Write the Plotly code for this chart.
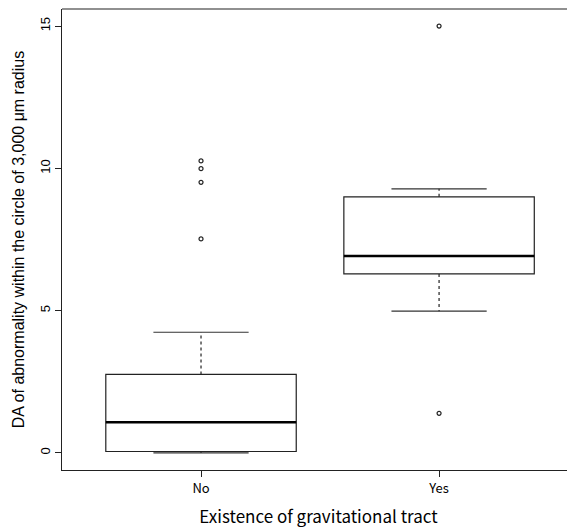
import plotly.graph_objects as go

categories = ["No", "Yes"]
q1 = [0.05, 6.29]
median = [1.08, 6.92]
q3 = [2.76, 9.00]
lower_whisker = [0.0, 4.98]
upper_whisker = [4.24, 9.28]
outliers = [[10.26, 9.99, 9.51, 7.52], [15.0, 1.39]]

positions = [1, 2]
box_w = 0.8
cap_w = 0.4

fig = go.Figure()

for i, cat in enumerate(categories):
    x = positions[i]
    fig.add_trace(go.Box(
        x=[x], q1=[q1[i]], median=[median[i]], q3=[q3[i]],
        lowerfence=[q1[i]], upperfence=[q3[i]],
        width=box_w, whiskerwidth=0,
        fillcolor="rgba(0,0,0,0)", line=dict(color="#222", width=1.2),
        boxpoints=False, showlegend=False, hoverinfo="skip"))
    fig.add_trace(go.Scatter(
        x=[x - box_w / 2, x + box_w / 2], y=[median[i], median[i]],
        mode="lines", line=dict(color="black", width=2.6),
        showlegend=False, hoverinfo="skip"))
    for a, b in [(q3[i], upper_whisker[i]), (q1[i], lower_whisker[i])]:
        fig.add_trace(go.Scatter(
            x=[x, x], y=[a, b], mode="lines",
            line=dict(color="#222", width=1.2, dash="dot"),
            showlegend=False, hoverinfo="skip"))
    for v in [upper_whisker[i], lower_whisker[i]]:
        fig.add_trace(go.Scatter(
            x=[x - cap_w / 2, x + cap_w / 2], y=[v, v], mode="lines",
            line=dict(color="#333", width=1.2),
            showlegend=False, hoverinfo="skip"))
    fig.add_trace(go.Scatter(
        x=[x] * len(outliers[i]), y=outliers[i], mode="markers",
        marker=dict(symbol="circle-open", size=4, color="#222", line=dict(width=1.2)),
        showlegend=False, hoverinfo="skip"))

fig.update_layout(
    width=567, height=520,
    margin=dict(l=54, r=0, t=1, b=58),
    paper_bgcolor="white", plot_bgcolor="white",
    font=dict(family="Liberation Sans, Arial, sans-serif", color="black"),
    xaxis=dict(
        range=[0.416, 2.571], tickvals=positions, ticktext=categories,
        automargin=False,
        showgrid=False, zeroline=False, showline=True, linecolor="#222", linewidth=1.2,
        ticks="outside", ticklen=6, tickcolor="#222",
        tickfont=dict(family="Noto Sans CJK KR, sans-serif", size=13),
        title=dict(text="Existence of gravitational tract",
                   font=dict(family="Noto Sans CJK KR, sans-serif", size=17), standoff=16),
    ),
    yaxis=dict(
        range=[-0.6, 15.6], tickvals=[0, 5, 10, 15],
        automargin=False,
        showgrid=False, zeroline=False, showline=True, linecolor="#222", linewidth=1.2,
        ticks="outside", ticklen=6, tickcolor="#222", tickangle=-90,
        tickfont=dict(family="Liberation Sans, Arial, sans-serif", size=13),
        title=dict(text="DA of abnormality within the circle of 3,000 μm radius",
                   font=dict(family="Liberation Sans, Arial, sans-serif", size=16), standoff=9),
    ),
    shapes=[dict(type="line", xref="paper", yref="paper", x0=0, x1=1, y0=1, y1=1,
                 line=dict(color="#222", width=1.2))],
)

fig.write_html("out.html")
